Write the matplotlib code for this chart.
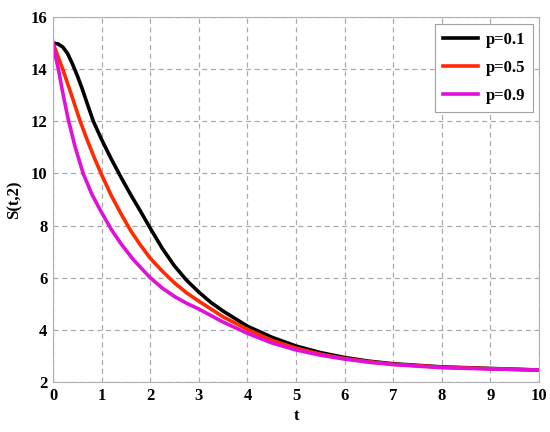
import matplotlib
matplotlib.use("Agg")
import matplotlib.pyplot as plt

t_p01 = [0, 0.1, 0.2, 0.3, 0.4, 0.5, 0.6, 0.7, 0.83, 1.0, 1.2, 1.4, 1.6, 1.8, 2.0,
         2.25, 2.5, 2.75, 3.0, 3.25, 3.5, 4.0, 4.5, 5.0, 5.5, 6.0, 6.5, 7.0, 8.0, 9.0, 10.0]
s_p01 = [15.0, 14.97, 14.85, 14.6, 14.2, 13.75, 13.25, 12.7, 12.0, 11.3, 10.55, 9.85,
         9.18, 8.55, 7.9, 7.12, 6.45, 5.9, 5.45, 5.05, 4.72, 4.14, 3.72, 3.38, 3.13,
         2.94, 2.8, 2.7, 2.58, 2.52, 2.46]

t_p05 = [0, 0.1, 0.2, 0.3, 0.4, 0.56, 0.7, 0.85, 1.0, 1.2, 1.4, 1.6, 1.8, 2.0,
         2.25, 2.5, 2.75, 3.0, 3.5, 4.0, 4.5, 5.0, 5.5, 6.0, 6.5, 7.0, 8.0, 9.0, 10.0]
s_p05 = [15.0, 14.5, 14.0, 13.45, 12.9, 12.0, 11.3, 10.6, 9.95, 9.15, 8.45, 7.8,
         7.25, 6.75, 6.25, 5.8, 5.42, 5.1, 4.5, 4.02, 3.6, 3.3, 3.07, 2.9, 2.78,
         2.68, 2.57, 2.51, 2.46]

t_p09 = [0, 0.05, 0.11, 0.2, 0.31, 0.45, 0.62, 0.8, 1.0, 1.2, 1.4, 1.65, 2.0,
         2.25, 2.5, 2.75, 3.0, 3.5, 4.0, 4.5, 5.0, 5.5, 6.0, 6.5, 7.0, 8.0, 9.0, 10.0]
s_p09 = [15.0, 14.5, 14.0, 13.1, 12.1, 11.05, 10.0, 9.2, 8.5, 7.85, 7.3, 6.7, 6.0,
         5.6, 5.28, 5.02, 4.8, 4.3, 3.87, 3.5, 3.23, 3.03, 2.88, 2.76, 2.67, 2.55,
         2.5, 2.46]

labels = ["p=0.1", "p=0.5", "p=0.9"]
colors = ["#000000", "#ff2a00", "#e010d8"]

plt.rcParams["font.family"] = ["Liberation Serif", "DejaVu Serif"]
plt.rcParams["font.weight"] = "bold"

fig = plt.figure(figsize=(5.5, 4.32), dpi=100)
ax = fig.add_axes([0.0964, 0.1157, 0.8836, 0.8449])

for t, s, lab, c in zip([t_p01, t_p05, t_p09], [s_p01, s_p05, s_p09], labels, colors):
    ax.plot(t, s, color=c, lw=2.6, label=lab, solid_joinstyle="round")

ax.set_xlim(0, 10)
ax.set_ylim(2, 16)
ax.set_xticks(range(0, 11))
ax.set_yticks(range(2, 17, 2))
ax.grid(True, color="#aaaaaa", linestyle=(0, (4, 3)), linewidth=0.9)
ax.tick_params(length=0, labelsize=12, pad=4)
for sp in ax.spines.values():
    sp.set_color("#b0b0b0")

ax.set_xlabel("t", fontsize=12, fontweight="bold", labelpad=3)
ax.set_ylabel("S(t,2)", fontsize=12, fontweight="bold", labelpad=6)

leg = ax.legend(loc="upper right", fontsize=12, fancybox=False, framealpha=1,
                edgecolor="#a0a0a0", handlelength=2.1, handletextpad=0.45,
                borderpad=0.5, labelspacing=0.7, borderaxespad=0,
                bbox_to_anchor=(0.988, 0.981))
leg.get_frame().set_linewidth(0.8)

fig.savefig("out.png", dpi=100)
